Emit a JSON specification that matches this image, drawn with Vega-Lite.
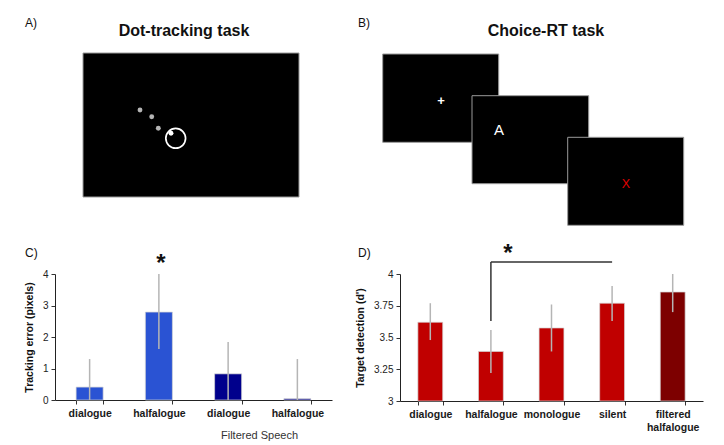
{
  "$schema": "https://vega.github.io/schema/vega-lite/v6.json",
  "padding": 0,
  "autosize": {"type": "pad"},
  "background": "white",
  "config": {
    "font": "Liberation Sans",
    "view": {"stroke": null},
    "axisX": {"labelAngle": 0, "labelFontWeight": "bold", "labelFontSize": 10.5, "labelColor": "#1a1a1a", "labelPadding": 4, "tickBand": "extent", "tickSize": 4, "tickColor": "#333", "domainColor": "#222", "grid": false},
    "axisY": {"grid": false, "tickSize": 4, "tickColor": "#333", "domainColor": "#222", "labelFontSize": 10, "labelColor": "#222", "labelPadding": 3, "titleFontSize": 10.5, "titleFontWeight": "bold", "titleColor": "#111", "titlePadding": 8, "labelExpr": "'' + datum.value"}
  },
  "columns": 2,
  "spacing": {"row": 44, "column": 68},
  "bounds": "flush",
  "resolve": {"scale": {"color": "independent", "x": "independent", "y": "independent"}},
  "concat": [
    {
      "width": 277, "height": 230,
      "encoding": {
        "x": {"field": "x", "type": "quantitative", "scale": {"domain": [55, 332], "nice": false, "zero": false}, "axis": null},
        "y": {"field": "y", "type": "quantitative", "scale": {"domain": [0, 230], "nice": false, "zero": false, "reverse": true}, "axis": null}
      },
      "layer": [
        {"data": {"values": [{"x": 0, "y": 0, "x2": 724, "y2": 445}]}, "mark": {"type": "rect", "fill": "white", "opacity": 0}, "encoding": {"x2": {"field": "x2"}, "y2": {"field": "y2"}}},
        {"data": {"values": [{"x": 83, "y": 53, "x2": 299, "y2": 197}]}, "mark": {"type": "rect", "fill": "black", "stroke": "#9a9a9a", "strokeWidth": 1}, "encoding": {"x2": {"field": "x2"}, "y2": {"field": "y2"}}},
        {"data": {"values": [{"x": 140, "y": 110}, {"x": 151.7, "y": 116.7}, {"x": 158.3, "y": 128.3}]}, "mark": {"type": "point", "filled": true, "color": "#b5b5b5", "opacity": 1, "size": 24}},
        {"data": {"values": [{"x": 171, "y": 133.3}]}, "mark": {"type": "point", "filled": true, "color": "white", "opacity": 1, "size": 24}},
        {"data": {"values": [{"x": 175.7, "y": 138.3}]}, "mark": {"type": "point", "filled": false, "color": "white", "opacity": 1, "strokeWidth": 1.7, "size": 390}},
        {"data": {"values": [{"x": 184, "y": 36, "t": "Dot-tracking task"}]}, "mark": {"type": "text", "fontSize": 16, "fontWeight": "bold", "align": "center", "baseline": "alphabetic", "color": "#111"}, "encoding": {"text": {"field": "t"}}},
        {"data": {"values": [{"x": 25, "y": 27, "t": "A)"}, {"x": 25, "y": 257, "t": "C)"}]}, "mark": {"type": "text", "fontSize": 12, "align": "left", "baseline": "alphabetic", "color": "#111"}, "encoding": {"text": {"field": "t"}}}
      ]
    },
    {
      "width": 303, "height": 230,
      "encoding": {
        "x": {"field": "x", "type": "quantitative", "scale": {"domain": [400, 703], "nice": false, "zero": false}, "axis": null},
        "y": {"field": "y", "type": "quantitative", "scale": {"domain": [0, 230], "nice": false, "zero": false, "reverse": true}, "axis": null}
      },
      "layer": [
        {"data": {"values": [{"x": 382.7, "y": 54, "x2": 498.7, "y2": 142.3}, {"x": 472, "y": 95.7, "x2": 588.7, "y2": 183.7}, {"x": 567.7, "y": 137.3, "x2": 683.7, "y2": 225.3}]}, "mark": {"type": "rect", "fill": "black", "stroke": "#9a9a9a", "strokeWidth": 1}, "encoding": {"x2": {"field": "x2"}, "y2": {"field": "y2"}}},
        {"data": {"values": [{"x": 441, "y": 105, "t": "+"}]}, "mark": {"type": "text", "fontSize": 13, "fontWeight": "bold", "align": "center", "baseline": "alphabetic", "color": "white"}, "encoding": {"text": {"field": "t"}}},
        {"data": {"values": [{"x": 499, "y": 135, "t": "A"}]}, "mark": {"type": "text", "fontSize": 15, "align": "center", "baseline": "alphabetic", "color": "white"}, "encoding": {"text": {"field": "t"}}},
        {"data": {"values": [{"x": 626, "y": 188, "t": "X"}]}, "mark": {"type": "text", "fontSize": 12.5, "align": "center", "baseline": "alphabetic", "color": "#e00000"}, "encoding": {"text": {"field": "t"}}},
        {"data": {"values": [{"x": 546, "y": 36, "t": "Choice-RT task"}]}, "mark": {"type": "text", "fontSize": 16, "fontWeight": "bold", "align": "center", "baseline": "alphabetic", "color": "#111"}, "encoding": {"text": {"field": "t"}}},
        {"data": {"values": [{"x": 358, "y": 27, "t": "B)"}, {"x": 358, "y": 257, "t": "D)"}]}, "mark": {"type": "text", "fontSize": 12, "align": "left", "baseline": "alphabetic", "color": "#111"}, "encoding": {"text": {"field": "t"}}}
      ]
    },
    {
      "width": 277, "height": 126,
      "data": {"values": [
        {"cond": "dialogue", "speech": "unfiltered", "mean": 0.41, "lo": 0, "hi": 1.3},
        {"cond": "halfalogue", "speech": "unfiltered", "mean": 2.79, "lo": 1.62, "hi": 4.0},
        {"cond": "filtered dialogue", "speech": "filtered", "mean": 0.83, "lo": 0, "hi": 1.84},
        {"cond": "filtered halfalogue", "speech": "filtered", "mean": 0.04, "lo": 0, "hi": 1.3}
      ]},
      "layer": [
        {
          "mark": {"type": "bar", "stroke": "#d4d4d4", "strokeWidth": 0.7},
          "encoding": {
            "x": {"field": "cond", "type": "nominal", "sort": null,
              "scale": {"domain": ["dialogue", "halfalogue", "filtered dialogue", "filtered halfalogue"], "paddingInner": 0.61, "paddingOuter": 0.305},
              "axis": {"title": "Filtered Speech", "titleX": 204, "titleY": 38, "titleAlign": "center", "titleBaseline": "alphabetic", "titleFontWeight": "normal", "titleFontSize": 11, "titleColor": "#333", "labelExpr": "replace(datum.label, 'filtered ', '')"}},
            "y": {"field": "mean", "type": "quantitative",
              "scale": {"domain": [0, 4], "nice": false, "zero": false},
              "axis": {"title": "Tracking error (pixels)", "values": [0, 1, 2, 3, 4]}},
            "color": {"field": "speech", "type": "nominal", "scale": {"domain": ["unfiltered", "filtered"], "range": ["#2a53d3", "#00008c"]}, "legend": null}
          }
        },
        {
          "mark": {"type": "rule", "color": "#b5b5b5", "strokeWidth": 1.5},
          "encoding": {
            "x": {"field": "cond", "type": "nominal", "sort": null,
              "scale": {"domain": ["dialogue", "halfalogue", "filtered dialogue", "filtered halfalogue"], "paddingInner": 0.61, "paddingOuter": 0.305},
              "axis": {"title": "Filtered Speech", "titleX": 204, "titleY": 38, "titleAlign": "center", "titleBaseline": "alphabetic", "titleFontWeight": "normal", "titleFontSize": 11, "titleColor": "#333", "labelExpr": "replace(datum.label, 'filtered ', '')"}},
            "y": {"field": "lo", "type": "quantitative",
              "scale": {"domain": [0, 4], "nice": false, "zero": false},
              "axis": {"title": "Tracking error (pixels)", "values": [0, 1, 2, 3, 4]}},
            "y2": {"field": "hi"}
          }
        },
        {
          "data": {"values": [{"cond": "halfalogue", "y": 4.11, "t": "*"}]},
          "mark": {"type": "text", "fontSize": 24, "fontWeight": "bold", "align": "center", "baseline": "alphabetic", "color": "#111", "dx": 2},
          "encoding": {
            "x": {"field": "cond", "type": "nominal", "sort": null,
              "scale": {"domain": ["dialogue", "halfalogue", "filtered dialogue", "filtered halfalogue"], "paddingInner": 0.61, "paddingOuter": 0.305},
              "axis": {"title": "Filtered Speech", "titleX": 204, "titleY": 38, "titleAlign": "center", "titleBaseline": "alphabetic", "titleFontWeight": "normal", "titleFontSize": 11, "titleColor": "#333", "labelExpr": "replace(datum.label, 'filtered ', '')"}},
            "y": {"field": "y", "type": "quantitative",
              "scale": {"domain": [0, 4], "nice": false, "zero": false},
              "axis": {"title": "Tracking error (pixels)", "values": [0, 1, 2, 3, 4]}},
            "text": {"field": "t"}
          }
        }
      ]
    },
    {
      "width": 303, "height": 127,
      "data": {"values": [
        {"cond": "dialogue", "speech": "unfiltered", "mean": 3.62, "lo": 3.48, "hi": 3.77},
        {"cond": "halfalogue", "speech": "unfiltered", "mean": 3.39, "lo": 3.22, "hi": 3.56},
        {"cond": "monologue", "speech": "unfiltered", "mean": 3.575, "lo": 3.39, "hi": 3.76},
        {"cond": "silent", "speech": "unfiltered", "mean": 3.77, "lo": 3.63, "hi": 3.906},
        {"cond": "filtered halfalogue", "speech": "filtered", "mean": 3.858, "lo": 3.7, "hi": 4.0}
      ]},
      "layer": [
        {
          "mark": {"type": "bar", "stroke": "#d4d4d4", "strokeWidth": 0.7},
          "encoding": {
            "x": {"field": "cond", "type": "nominal", "sort": null,
              "scale": {"domain": ["dialogue", "halfalogue", "monologue", "silent", "filtered halfalogue"], "paddingInner": 0.59, "paddingOuter": 0.295},
              "axis": {"title": null, "labelExpr": "datum.label == 'filtered halfalogue' ? ['filtered', 'halfalogue'] : datum.label", "labelLineHeight": 13}},
            "y": {"field": "mean", "type": "quantitative",
              "scale": {"domain": [3, 4], "nice": false, "zero": false},
              "axis": {"title": "Target detection (d')", "values": [3, 3.25, 3.5, 3.75, 4]}},
            "y2": {"datum": 3},
            "color": {"field": "speech", "type": "nominal", "scale": {"domain": ["unfiltered", "filtered"], "range": ["#c00000", "#7d0000"]}, "legend": null}
          }
        },
        {
          "mark": {"type": "rule", "color": "#b5b5b5", "strokeWidth": 1.5},
          "encoding": {
            "x": {"field": "cond", "type": "nominal", "sort": null,
              "scale": {"domain": ["dialogue", "halfalogue", "monologue", "silent", "filtered halfalogue"], "paddingInner": 0.59, "paddingOuter": 0.295},
              "axis": {"title": null, "labelExpr": "datum.label == 'filtered halfalogue' ? ['filtered', 'halfalogue'] : datum.label", "labelLineHeight": 13}},
            "y": {"field": "lo", "type": "quantitative",
              "scale": {"domain": [3, 4], "nice": false, "zero": false},
              "axis": {"title": "Target detection (d')", "values": [3, 3.25, 3.5, 3.75, 4]}},
            "y2": {"field": "hi"}
          }
        },
        {
          "data": {"values": [{"cond": "halfalogue", "to": "silent", "y": 4.094}]},
          "mark": {"type": "rule", "color": "#333333", "strokeWidth": 1.5},
          "encoding": {
            "x": {"field": "cond", "type": "nominal", "sort": null,
              "scale": {"domain": ["dialogue", "halfalogue", "monologue", "silent", "filtered halfalogue"], "paddingInner": 0.59, "paddingOuter": 0.295},
              "axis": {"title": null, "labelExpr": "datum.label == 'filtered halfalogue' ? ['filtered', 'halfalogue'] : datum.label", "labelLineHeight": 13}},
            "x2": {"field": "to"},
            "y": {"field": "y", "type": "quantitative",
              "scale": {"domain": [3, 4], "nice": false, "zero": false},
              "axis": {"title": "Target detection (d')", "values": [3, 3.25, 3.5, 3.75, 4]}}
          }
        },
        {
          "data": {"values": [{"cond": "halfalogue", "lo": 3.63, "hi": 4.094}]},
          "mark": {"type": "rule", "color": "#333333", "strokeWidth": 1.5},
          "encoding": {
            "x": {"field": "cond", "type": "nominal", "sort": null,
              "scale": {"domain": ["dialogue", "halfalogue", "monologue", "silent", "filtered halfalogue"], "paddingInner": 0.59, "paddingOuter": 0.295},
              "axis": {"title": null, "labelExpr": "datum.label == 'filtered halfalogue' ? ['filtered', 'halfalogue'] : datum.label", "labelLineHeight": 13}},
            "y": {"field": "lo", "type": "quantitative",
              "scale": {"domain": [3, 4], "nice": false, "zero": false},
              "axis": {"title": "Target detection (d')", "values": [3, 3.25, 3.5, 3.75, 4]}},
            "y2": {"field": "hi"}
          }
        },
        {
          "data": {"values": [{"cond": "halfalogue", "y": 4.106, "t": "*"}]},
          "mark": {"type": "text", "fontSize": 24, "fontWeight": "bold", "align": "center", "baseline": "alphabetic", "color": "#111", "dx": 17},
          "encoding": {
            "x": {"field": "cond", "type": "nominal", "sort": null,
              "scale": {"domain": ["dialogue", "halfalogue", "monologue", "silent", "filtered halfalogue"], "paddingInner": 0.59, "paddingOuter": 0.295},
              "axis": {"title": null, "labelExpr": "datum.label == 'filtered halfalogue' ? ['filtered', 'halfalogue'] : datum.label", "labelLineHeight": 13}},
            "y": {"field": "y", "type": "quantitative",
              "scale": {"domain": [3, 4], "nice": false, "zero": false},
              "axis": {"title": "Target detection (d')", "values": [3, 3.25, 3.5, 3.75, 4]}},
            "text": {"field": "t"}
          }
        }
      ]
    }
  ]
}
